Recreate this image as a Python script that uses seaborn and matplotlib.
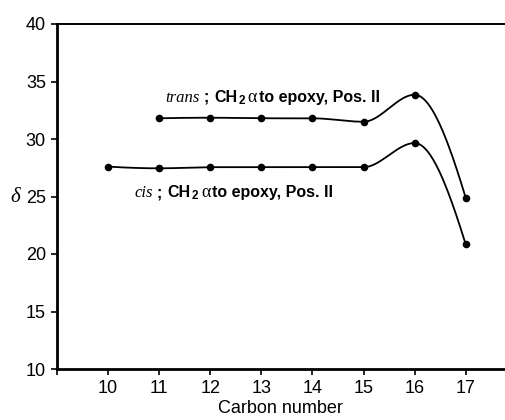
import numpy as np
import matplotlib
matplotlib.use('Agg')
import matplotlib.pyplot as plt
import seaborn as sns
import pandas as pd

carbon_trans = [11, 12, 13, 14, 15, 16, 17]
delta_trans = [31.8, 31.85, 31.8, 31.8, 31.5, 33.85, 24.9]
carbon_cis = [10, 11, 12, 13, 14, 15, 16, 17]
delta_cis = [27.6, 27.45, 27.55, 27.55, 27.55, 27.55, 29.65, 20.85]
x_ticks = [10, 11, 12, 13, 14, 15, 16, 17]
y_ticks = [10, 15, 20, 25, 30, 35, 40]


def pchip(x, y, n=400):
    x = np.asarray(x, float)
    y = np.asarray(y, float)
    k = len(x)
    h = np.diff(x)
    d = np.diff(y) / h
    m = np.zeros(k)
    for i in range(1, k - 1):
        if d[i - 1] * d[i] > 0:
            w1 = 2 * h[i] + h[i - 1]
            w2 = h[i] + 2 * h[i - 1]
            m[i] = (w1 + w2) / (w1 / d[i - 1] + w2 / d[i])

    def end(h0, h1, d0, d1):
        mm = ((2 * h0 + h1) * d0 - h0 * d1) / (h0 + h1)
        if np.sign(mm) != np.sign(d0):
            return 0.0
        if np.sign(d0) != np.sign(d1) and abs(mm) > 3 * abs(d0):
            return 3 * d0
        return mm

    m[0] = end(h[0], h[1], d[0], d[1])
    m[-1] = end(h[-1], h[-2], d[-1], d[-2])
    xs = np.linspace(x[0], x[-1], n)
    ys = np.empty_like(xs)
    for j, xv in enumerate(xs):
        i = int(np.clip(np.searchsorted(x, xv) - 1, 0, k - 2))
        t = (xv - x[i]) / h[i]
        h00 = 2 * t ** 3 - 3 * t ** 2 + 1
        h10 = t ** 3 - 2 * t ** 2 + t
        h01 = -2 * t ** 3 + 3 * t ** 2
        h11 = t ** 3 - t ** 2
        ys[j] = h00 * y[i] + h10 * h[i] * m[i] + h01 * y[i + 1] + h11 * h[i] * m[i + 1]
    return xs, ys


sns.set_style('ticks')
plt.rcParams['font.family'] = ['Liberation Sans', 'DejaVu Sans']
plt.rcParams['text.color'] = 'black'
plt.rcParams['axes.labelcolor'] = 'black'

W, H = 505, 420
fig = plt.figure(figsize=(W / 100, H / 100), dpi=100)
ax = fig.add_axes([57 / W, 1 - 369 / H, (504 - 57) / W, (369 - 24) / H])

for cx, cy in [(carbon_trans, delta_trans), (carbon_cis, delta_cis)]:
    xs, ys = pchip(cx, cy)
    curve = pd.DataFrame({'x': xs, 'y': ys})
    sns.lineplot(data=curve, x='x', y='y', ax=ax, color='black', lw=1.3,
                 sort=False, estimator=None)
    pts = pd.DataFrame({'x': cx, 'y': cy})
    sns.scatterplot(data=pts, x='x', y='y', ax=ax, color='black', s=30,
                    edgecolor='black', linewidth=0, zorder=5)

ax.set_xlim(9.0, 17.75)
ax.set_ylim(10, 40)
ax.set_xticks([9] + x_ticks)
ax.set_xticklabels([''] + [str(v) for v in x_ticks])
ax.set_yticks(y_ticks)
ax.set_yticklabels([str(v) for v in y_ticks])
ax.tick_params(axis='both', direction='out', length=4, width=1.2, color='black',
               labelsize=13, labelcolor='black', pad=4)
ax.set_xlabel('Carbon number', fontsize=13, labelpad=2, color='black')
ax.set_ylabel('')

ax.spines['right'].set_visible(False)
for s in ['left', 'bottom']:
    ax.spines[s].set_linewidth(2.0)
    ax.spines[s].set_color('black')
ax.spines['top'].set_linewidth(1.4)
ax.spines['top'].set_color('black')

fig.text(15 / W, 1 - 197 / H, 'δ', family='Liberation Serif', style='italic',
         fontsize=15, ha='center', va='center', color='black')

renderer = fig.canvas.get_renderer()
serif_it = dict(family='Liberation Serif', style='italic', fontsize=12, color='black')
bold = dict(family='Liberation Sans', fontweight='bold', fontsize=11.5, color='black')
sub = dict(family='Liberation Sans', fontweight='bold', fontsize=8.5, color='black')
alpha_kw = dict(family='Liberation Serif', fontsize=13, color='black')


def label(x_px, base_px, first):
    pieces = [(first, serif_it, 0, 4), (';', bold, 0, 6), ('CH', bold, 0, 0.5),
              ('2', sub, 2, 3), ('α', alpha_kw, 0, 2), ('to epoxy, Pos. II', bold, 0, 0)]
    x = x_px
    for txt, kw, dy, gap in pieces:
        t = fig.text(x / W, 1 - (base_px + dy) / H, txt, ha='left', va='baseline', **kw)
        bb = t.get_window_extent(renderer=renderer)
        x = bb.x1 + gap


label(165, 102, 'trans')
label(134, 197, 'cis')

fig.savefig('out.png', dpi=100)
